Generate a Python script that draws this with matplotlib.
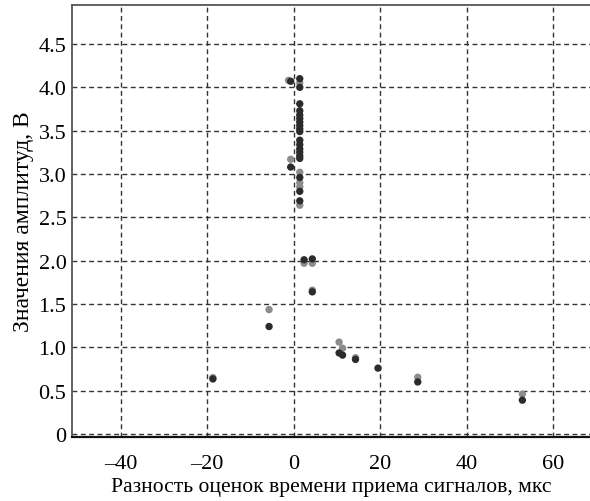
import matplotlib
matplotlib.use("Agg")
import matplotlib.pyplot as plt
from matplotlib.ticker import FixedLocator, FuncFormatter

plt.rcParams['font.family'] = ['Liberation Serif', 'DejaVu Serif']

# Dark points (x: time difference, us; y: amplitude, V)
dark_x = [-18.7, -5.7, -0.7, -0.7, 1.4, 1.4, 1.4, 1.4, 1.4, 1.4, 1.4, 1.4, 1.4, 1.4,
          1.4, 1.4, 1.4, 1.4, 1.4, 1.4, 1.4, 1.4, 1.4, 2.4, 4.3, 4.3, 10.5, 11.3,
          14.3, 19.5, 28.7, 52.9]
dark_y = [0.635, 1.24, 4.07, 3.08, 4.10, 4.00, 3.81, 3.73, 3.68, 3.64, 3.60, 3.56,
          3.52, 3.49, 3.39, 3.34, 3.29, 3.25, 3.21, 3.18, 2.96, 2.80, 2.69, 2.01,
          2.02, 1.64, 0.935, 0.91, 0.86, 0.76, 0.60, 0.39]

# Grey points
grey_x = [-18.7, -5.7, -1.2, -0.7, 1.4, 1.4, 1.4, 1.4, 1.4, 2.4, 4.3, 4.3, 10.5,
          11.3, 14.3, 28.7, 52.9]
grey_y = [0.65, 1.435, 4.08, 3.17, 4.05, 3.02, 2.90, 2.85, 2.64, 1.97, 1.97, 1.66,
          1.06, 0.99, 0.88, 0.655, 0.46]

x_ticks = [-40, -20, 0, 20, 40, 60]
y_ticks = [0, 0.5, 1.0, 1.5, 2.0, 2.5, 3.0, 3.5, 4.0, 4.5]

fig = plt.figure(figsize=(5.9, 5.02), dpi=100)
ax = fig.add_axes([0.122, 0.1275, 0.878, 0.8605])

ax.scatter(grey_x, grey_y, s=28, color='#8c8c8c', edgecolors='none', zorder=3)
ax.scatter(dark_x, dark_y, s=28, color='#2b2b2b', edgecolors='none', zorder=4)

ax.set_xlim(-51.3, 68.55)
ax.set_ylim(-0.035, 4.95)

ax.xaxis.set_major_locator(FixedLocator(x_ticks))
ax.yaxis.set_major_locator(FixedLocator(y_ticks))
ax.xaxis.set_major_formatter(FuncFormatter(lambda v, p: f"{int(v)}".replace('-', '\u2013')))
ax.yaxis.set_major_formatter(FuncFormatter(lambda v, p: "0" if v == 0 else f"{v:.1f}"))

ax.grid(True, linestyle=(0, (3.5, 2.5)), color='#333333', linewidth=1.0)
ax.set_axisbelow(True)
ax.tick_params(axis='x', length=0, labelsize=16, pad=12)
ax.tick_params(axis='y', length=0, labelsize=16, pad=4)

ax.spines['right'].set_visible(False)
ax.spines['left'].set_color('#555555')
ax.spines['left'].set_linewidth(1.3)
ax.spines['top'].set_color('#555555')
ax.spines['top'].set_linewidth(1.3)
ax.spines['bottom'].set_color('#111111')
ax.spines['bottom'].set_linewidth(1.6)

ax.set_xlabel("Разность оценок времени приема сигналов, мкс", fontsize=15.6, labelpad=3)
ax.set_ylabel("Значения амплитуд, В", fontsize=17, labelpad=3)

fig.savefig("out.png", dpi=100)
